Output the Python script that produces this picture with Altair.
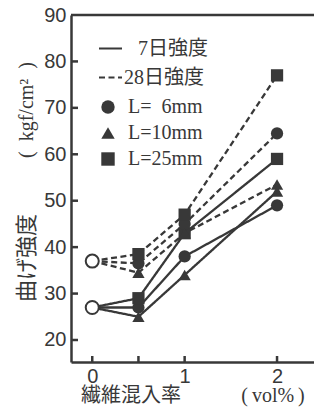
import altair as alt
import pandas as pd

# ---- data ----
fiber = [0, 0.5, 1, 2]
ages = ["7日強度", "28日強度"]
lengths = ["L=\u20076mm", "L=10mm", "L=25mm"]
s7_L6 = [27, 27, 38, 49]
s7_L10 = [27, 25, 34, 52]
s7_L25 = [27, 29, 43, 59]
s28_L6 = [37, 36.5, 45, 64.5]
s28_L10 = [37, 34.5, 43, 53.5]
s28_L25 = [37, 38.5, 47, 77]
plain = [27, 37]            # x = 0 (no fiber), open circles
yticks = [20, 30, 40, 50, 60, 70, 80, 90]
xticks = [0, 0.5, 1, 2]
xlabels = [0, 1, 2]

series = {
    (ages[0], lengths[0]): s7_L6,
    (ages[0], lengths[1]): s7_L10,
    (ages[0], lengths[2]): s7_L25,
    (ages[1], lengths[0]): s28_L6,
    (ages[1], lengths[1]): s28_L10,
    (ages[1], lengths[2]): s28_L25,
}
rows = []
for (a, l), vals in series.items():
    for x, v in zip(fiber, vals):
        rows.append({"x": x, "y": v, "age": a, "L": l, "sid": a + l})
df = pd.DataFrame(rows)
df_pts = df[df["x"] > 0]
df_plain = pd.DataFrame({"x": [0, 0], "y": plain})
df_yt = pd.DataFrame({"y": yticks[:-1]})
df_xt = pd.DataFrame({"x": xticks})

W, H = 243, 347
INK = "#383838"
LAT = "Liberation Serif, Noto Sans CJK JP"
CJK = "Noto Sans CJK JP"
xs = alt.Scale(domain=[-0.23, 2.40], nice=False, zero=False)
ys = alt.Scale(domain=[15.26, 90], nice=False, zero=False)

lines = alt.Chart(df).mark_line(strokeWidth=2.3, color=INK).encode(
    x=alt.X("x:Q", scale=xs,
            axis=alt.Axis(values=xlabels, format="d", title=None, ticks=False,
                          grid=False, labelFontSize=20, labelPadding=4,
                          labelColor=INK, labelFont="Liberation Sans",
                          domainColor=INK, domainWidth=2.5)),
    y=alt.Y("y:Q", scale=ys,
            axis=alt.Axis(values=yticks, title=None, ticks=False, grid=False,
                          labelFontSize=20, labelPadding=5, labelColor=INK,
                          labelFont="Liberation Sans", domainColor=INK,
                          domainWidth=2.5)),
    detail="sid:N",
    strokeDash=alt.StrokeDash(
        "age:N",
        scale=alt.Scale(domain=ages, range=[[1, 0], [6, 3.5]]),
        legend=alt.Legend(orient="none", legendX=27, legendY=21, title=None,
                          symbolType="stroke", symbolSize=529,
                          symbolStrokeWidth=2, symbolStrokeColor=INK,
                          labelFontSize=20, labelFont=LAT, labelColor=INK,
                          labelExpr="indexof(datum.label, '28') < 0 ? '\u200b\u2002\u2009' + datum.label : datum.label",
                          rowPadding=6, labelOffset=1)),
)

points = alt.Chart(df_pts).mark_point(filled=True, size=150, color=INK, opacity=1).encode(
    x=alt.X("x:Q", scale=xs),
    y=alt.Y("y:Q", scale=ys),
    shape=alt.Shape(
        "L:N",
        scale=alt.Scale(domain=lengths, range=["circle", "triangle-up", "square"]),
        legend=alt.Legend(orient="none", legendX=27, legendY=82, title=None,
                          symbolSize=180, symbolFillColor=INK,
                          symbolStrokeColor=INK, symbolStrokeWidth=0,
                          labelFontSize=20, labelFont=LAT, labelColor=INK,
                          rowPadding=6, labelOffset=10)),
)

open_pts = alt.Chart(df_plain).mark_point(
    filled=True, size=170, fill="white", stroke=INK, strokeWidth=2, opacity=1,
    shape="circle").encode(x=alt.X("x:Q", scale=xs), y=alt.Y("y:Q", scale=ys))

ytk = alt.Chart(df_yt).mark_rule(color=INK, strokeWidth=2.5).encode(
    y=alt.Y("y:Q", scale=ys), x=alt.value(0), x2=alt.value(7))
xtk = alt.Chart(df_xt).mark_rule(color=INK, strokeWidth=2.5).encode(
    x=alt.X("x:Q", scale=xs), y=alt.value(H - 6), y2=alt.value(H))
top = alt.Chart(df_plain.head(1)).mark_rule(color=INK, strokeWidth=2.5).encode(
    x=alt.value(0), x2=alt.value(W), y=alt.value(0))

one = df_plain.head(1)
t_x1 = alt.Chart(one).mark_text(
    text="繊維混入率", font=CJK, fontSize=20, color=INK).encode(
    x=alt.value(60), y=alt.value(381))
t_x2 = alt.Chart(one).mark_text(
    text="(\u2009vol%\u2009)", font=LAT, fontSize=20, color=INK).encode(
    x=alt.value(202), y=alt.value(381))
t_y1 = alt.Chart(one).mark_text(
    text="曲げ強度", font=CJK, fontSize=22, angle=270, color=INK).encode(
    x=alt.value(-44), y=alt.value(243))
t_y2 = alt.Chart(one).mark_text(
    text="(\u2002kgf/cm²\u2002)", font=LAT, fontSize=20, angle=270, color=INK).encode(
    x=alt.value(-44), y=alt.value(95))

chart = alt.layer(lines, points, open_pts, ytk, xtk, top,
                  t_x1, t_x2, t_y1, t_y2).properties(
    width=W, height=H,
    autosize=alt.AutoSizeParams(type="none"),
    padding={"left": 63, "top": 7, "right": 0, "bottom": 45},
    background="white",
).configure_view(stroke=None)

chart.save("out.html", embed_options={"renderer": "svg", "actions": False})
